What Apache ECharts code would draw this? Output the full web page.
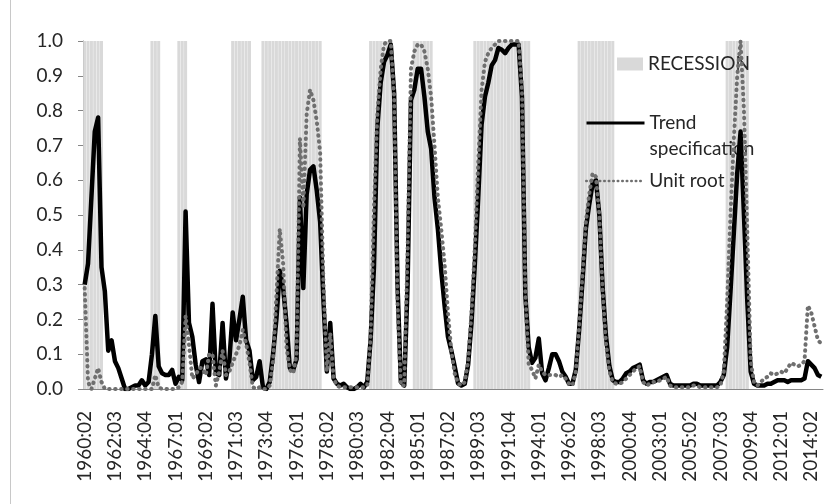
<!DOCTYPE html>
<html>
<head>
<meta charset="utf-8">
<script src="https://cdn.jsdelivr.net/npm/echarts@6/dist/echarts.min.js"></script>
<style>
  html, body { margin: 0; padding: 0; background: #fff; }
  #chart { width: 827px; height: 504px; }
</style>
</head>
<body>
<div id="chart"></div>
<script>
// quarterly axis, 1960:02 .. 2015:01
const startYear = 1960;
const startQuarter = 2;
const quarterCount = 220;

// periods shaded as recession (first and last quarter, inclusive)
const recessionPeriods = [
  ["1960:02", "1961:03"],
  ["1965:02", "1965:04"],
  ["1967:02", "1967:04"],
  ["1971:02", "1972:03"],
  ["1973:03", "1977:04"],
  ["1981:03", "1983:01"],
  ["1984:04", "1986:01"],
  ["1989:02", "1993:02"],
  ["1997:01", "1999:03"],
  ["2008:01", "2009:03"]
];

const trendSpec = [
  0.30, 0.36, 0.55, 0.74, 0.78, 0.35, 0.28, 0.11, 0.14, 0.08,
  0.06, 0.03, 0.00, 0.00, 0.005, 0.01, 0.01, 0.025, 0.01, 0.02,
  0.10, 0.21, 0.065, 0.045, 0.04, 0.04, 0.055, 0.015, 0.035, 0.025,
  0.51, 0.19, 0.15, 0.07, 0.02, 0.08, 0.085, 0.04, 0.245, 0.045,
  0.04, 0.19, 0.03, 0.08, 0.22, 0.14, 0.20, 0.265, 0.14, 0.11,
  0.025, 0.035, 0.08, 0.005, 0.00, 0.02, 0.10, 0.20, 0.34, 0.29,
  0.19, 0.06, 0.055, 0.085, 0.55, 0.29, 0.56, 0.63, 0.64, 0.57,
  0.48, 0.25, 0.05, 0.19, 0.03, 0.015, 0.01, 0.015, 0.005, 0.00,
  0.00, 0.005, 0.015, 0.005, 0.02, 0.14, 0.35, 0.75, 0.88, 0.94,
  0.96, 0.99, 0.85, 0.30, 0.02, 0.01, 0.30, 0.83, 0.86, 0.92,
  0.92, 0.84, 0.74, 0.69, 0.55, 0.46, 0.34, 0.24, 0.15, 0.11,
  0.065, 0.016, 0.01, 0.015, 0.07, 0.19, 0.36, 0.55, 0.76, 0.84,
  0.88, 0.93, 0.945, 0.98, 0.975, 0.965, 0.98, 0.99, 0.99, 0.99,
  0.84, 0.27, 0.12, 0.075, 0.09, 0.145, 0.045, 0.025, 0.06, 0.10,
  0.10, 0.08, 0.05, 0.035, 0.015, 0.015, 0.055, 0.17, 0.31, 0.46,
  0.53, 0.59, 0.60, 0.50, 0.29, 0.15, 0.065, 0.025, 0.02, 0.02,
  0.03, 0.045, 0.05, 0.06, 0.065, 0.07, 0.025, 0.015, 0.02, 0.02,
  0.025, 0.03, 0.035, 0.04, 0.015, 0.01, 0.01, 0.01, 0.01, 0.01,
  0.01, 0.015, 0.015, 0.01, 0.01, 0.01, 0.01, 0.01, 0.01, 0.02,
  0.04, 0.12, 0.28, 0.45, 0.62, 0.74, 0.50, 0.25, 0.05, 0.015,
  0.01, 0.01, 0.01, 0.015, 0.015, 0.02, 0.025, 0.025, 0.025, 0.02,
  0.025, 0.025, 0.025, 0.025, 0.03, 0.08, 0.07, 0.06, 0.04, 0.035
];

const unitRoot = [
  0.29, 0.02, 0.00, 0.03, 0.06, 0.02, 0.00, 0.00, 0.00, 0.00,
  0.00, 0.00, 0.00, 0.00, 0.00, 0.00, 0.00, 0.00, 0.00, 0.00,
  0.00, 0.04, 0.005, 0.00, 0.00, 0.00, 0.00, 0.00, 0.005, 0.02,
  0.21, 0.13, 0.03, 0.04, 0.06, 0.06, 0.04, 0.10, 0.10, 0.01,
  0.05, 0.11, 0.04, 0.05, 0.075, 0.10, 0.125, 0.17, 0.13, 0.075,
  0.005, 0.00, 0.005, 0.00, 0.00, 0.01, 0.08, 0.27, 0.46, 0.36,
  0.12, 0.055, 0.045, 0.10, 0.72, 0.52, 0.79, 0.86, 0.83, 0.77,
  0.68, 0.30, 0.05, 0.16, 0.03, 0.01, 0.005, 0.005, 0.005, 0.005,
  0.005, 0.005, 0.005, 0.005, 0.01, 0.15, 0.52, 0.79, 0.92, 0.99,
  1.00, 1.00, 0.84, 0.25, 0.01, 0.01, 0.40, 0.92, 0.97, 0.99,
  0.99, 0.97, 0.92, 0.84, 0.70, 0.55, 0.46, 0.36, 0.22, 0.11,
  0.045, 0.016, 0.01, 0.02, 0.08, 0.22, 0.41, 0.65, 0.86, 0.94,
  0.965, 0.98, 0.99, 1.00, 1.00, 1.00, 1.00, 1.00, 1.00, 1.00,
  0.86, 0.28, 0.07, 0.055, 0.03, 0.07, 0.05, 0.04, 0.04, 0.04,
  0.04, 0.035, 0.04, 0.03, 0.015, 0.01, 0.05, 0.18, 0.33, 0.48,
  0.56, 0.62, 0.61, 0.50, 0.28, 0.13, 0.05, 0.02, 0.015, 0.015,
  0.02, 0.03, 0.04, 0.05, 0.06, 0.065, 0.02, 0.01, 0.015, 0.02,
  0.02, 0.025, 0.03, 0.035, 0.01, 0.005, 0.005, 0.005, 0.005, 0.005,
  0.005, 0.01, 0.01, 0.005, 0.005, 0.005, 0.005, 0.005, 0.005, 0.01,
  0.05, 0.25, 0.50, 0.72, 0.90, 1.00, 0.80, 0.45, 0.08, 0.02,
  0.01, 0.02, 0.03, 0.035, 0.045, 0.04, 0.045, 0.05, 0.045, 0.06,
  0.075, 0.07, 0.065, 0.07, 0.08, 0.24, 0.22, 0.18, 0.14, 0.13
];

const quarters = [];
for (let i = 0; i < quarterCount; i++) {
  const k = startQuarter - 1 + i;
  const y = startYear + Math.floor(k / 4);
  const q = (k % 4) + 1;
  quarters.push(y + ":0" + q);
}

const recession = quarters.map(() => 0);
recessionPeriods.forEach(([from, to]) => {
  const a = quarters.indexOf(from);
  const b = quarters.indexOf(to);
  for (let i = a; i <= b; i++) recession[i] = 1;
});

const font = "Lato, 'Open Sans', sans-serif";
const textColor = "#262626";
const axisColor = "#868686";
const legendText = { fontFamily: font, fontSize: 19, color: textColor, lineHeight: 26 };

const chart = echarts.init(document.getElementById("chart"));
chart.setOption({
  animation: false,
  grid: { left: 83, right: 4, top: 41, bottom: 115 },
  graphic: [
    {
      type: "line",
      shape: { x1: 10.5, y1: 0, x2: 10.5, y2: 504 },
      style: { stroke: "#c8c8c8", lineWidth: 1 },
      silent: true
    }
  ],
  legend: [
    {
      data: ["RECESSION"],
      left: 617, top: 51, padding: 0, z: 2,
      itemWidth: 26, itemHeight: 13,
      icon: "rect",
      textStyle: legendText
    },
    {
      data: ["Trend specification"],
      left: 585, top: 84, padding: 0, z: 2,
      itemWidth: 58, itemHeight: 14,
      formatter: () => "\nTrend\nspecification",
      itemStyle: { opacity: 0 },
      lineStyle: { width: 3 },
      textStyle: legendText
    },
    {
      data: ["Unit root"],
      left: 585, top: 168, padding: 0, z: 2,
      itemWidth: 58, itemHeight: 14,
      itemStyle: { opacity: 0 },
      lineStyle: { width: 2.5, type: [0.5, 4], cap: "round" },
      textStyle: legendText
    }
  ],
  xAxis: {
    type: "category",
    data: quarters,
    boundaryGap: true,
    axisLine: { lineStyle: { color: axisColor, width: 1 } },
    axisTick: { interval: 0, length: 5, lineStyle: { color: axisColor } },
    axisLabel: {
      interval: 8, rotate: 90, margin: 22,
      padding: [8, 0, 0, 0],
      fontFamily: font, fontSize: 19, color: textColor
    },
    splitLine: { show: false }
  },
  yAxis: {
    type: "value",
    min: 0, max: 1, interval: 0.1,
    axisLine: { show: true, lineStyle: { color: axisColor, width: 1 } },
    axisTick: { show: true, length: 5, lineStyle: { color: axisColor } },
    axisLabel: {
      margin: 20, fontFamily: font, fontSize: 19, color: textColor,
      formatter: (v) => v.toFixed(1)
    },
    splitLine: { show: false }
  },
  series: [
    {
      name: "RECESSION",
      type: "bar",
      data: recession,
      barCategoryGap: "10%",
      itemStyle: { color: "#d9d9d9" },
      z: 1
    },
    {
      name: "Trend specification",
      type: "line",
      data: trendSpec,
      symbol: "none",
      lineStyle: { color: "#000", width: 4.5, join: "round" },
      itemStyle: { color: "#000" },
      z: 3
    },
    {
      name: "Unit root",
      type: "line",
      data: unitRoot,
      symbol: "none",
      lineStyle: { color: "#6f6f6f", width: 4, type: [0.5, 5.5], cap: "round", join: "round" },
      itemStyle: { color: "#6f6f6f" },
      z: 4
    }
  ]
});
</script>
</body>
</html>
